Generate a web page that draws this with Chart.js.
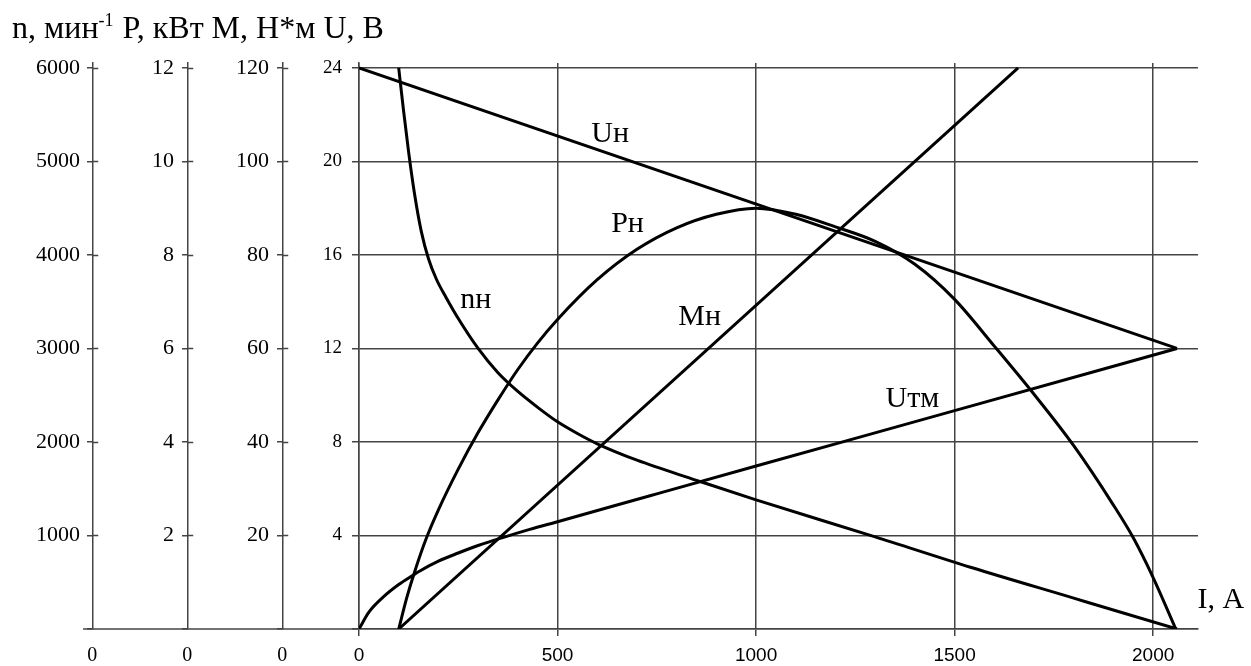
<!DOCTYPE html>
<html><head><meta charset="utf-8">
<script src="https://cdn.jsdelivr.net/npm/chart.js@4"></script>
<style>html,body{margin:0;padding:0;background:#fff}#wrap{width:1251px;height:666px;position:relative}</style>
</head><body><div id="wrap"><canvas id="c"></canvas></div>
<script>
// ---------- data ----------
const currentTicks = [0, 500, 1000, 1500, 2000];
const voltageTicks = [0, 4, 8, 12, 16, 20, 24];
const speedTicks = [0, 1000, 2000, 3000, 4000, 5000, 6000];
const powerTicks = [0, 2, 4, 6, 8, 10, 12];
const torqueTicks = [0, 20, 40, 60, 80, 100, 120];

// n_н, min^-1
const speedCurrent = [100, 112, 125, 140, 157, 175, 195, 220, 250, 300, 350, 400, 450, 500, 550, 600, 700, 850, 1000, 1300, 1540, 1800, 2060];
const speedValues  = [6000, 5550, 5100, 4650, 4250, 3960, 3740, 3540, 3320, 3000, 2740, 2540, 2370, 2215, 2090, 1980, 1805, 1590, 1380, 985, 660, 330, 0];
// P_н, kW
const powerCurrent = [100, 120, 140, 170, 200, 250, 300, 350, 400, 450, 500, 600, 700, 800, 900, 1000, 1100, 1200, 1300, 1400, 1500, 1600, 1700, 1800, 1900, 1950, 2000, 2057];
const powerValues  = [0, 0.66, 1.22, 1.95, 2.55, 3.42, 4.2, 4.9, 5.55, 6.12, 6.62, 7.47, 8.12, 8.58, 8.87, 9.0, 8.87, 8.6, 8.29, 7.8, 7.05, 6.05, 5.02, 3.92, 2.65, 1.95, 1.1, 0];
// M_н, N*m
const torqueCurrent = [100, 1660];
const torqueValues  = [0, 120];
// U_н, V
const voltageCurrent = [0, 2060];
const voltageValues  = [24, 12];
// U_тм, V
const tmCurrent = [0, 25, 60, 100, 136, 150, 200, 250, 300, 360, 430, 500, 733, 1000, 1500, 2060];
const tmValues  = [0, 0.72, 1.35, 1.9, 2.3, 2.45, 2.9, 3.25, 3.57, 3.9, 4.26, 4.59, 5.7, 6.97, 9.34, 12];

const seriesNames = ['nн', 'Pн', 'Mн', 'Uн', 'Uтм'];
const axisTitles = ['n, мин', '-1', ' P, кВт', ' M, Н*м', ' U, В'];
const xAxisTitle = 'I, A';

// ---------- styling / layout ----------
const SERIF = '"Liberation Serif", "Times New Roman", serif';
const SANS = '"Liberation Sans", Arial, sans-serif';
const GRID = '#444';
const headroom = 24.21 / 24;

const pts = (xs, ys) => xs.map((x, i) => ({x, y: ys[i]}));
const fixTicks = arr => scale => { scale.ticks = arr.map(v => ({value: v})); };
const hideZero = v => (v === 0 ? '' : String(v));

function ds(label, xs, ys, axis, smooth) {
  return {
    label, data: pts(xs, ys), yAxisID: axis, showLine: true,
    borderColor: '#000', borderWidth: 3, pointRadius: 0,
    cubicInterpolationMode: smooth ? 'monotone' : 'default', tension: 0, fill: false
  };
}

function sideAxis(max, ticks, width, weight, pad, fontSize, onArea) {
  return {
    type: 'linear', position: 'left', min: 0, max: max * headroom, weight,
    afterBuildTicks: fixTicks(ticks),
    afterFit: s => { s.width = width; },
    grid: { drawOnChartArea: onArea, color: GRID, lineWidth: 1.5, tickLength: onArea ? 7 : 6 },
    border: { display: true, color: GRID, width: 1.5 },
    ticks: { callback: hideZero, color: '#000', padding: pad, font: { family: SERIF, size: fontSize } }
  };
}

const labelPlaces = [
  { text: seriesNames[3], x: 585, u: 20.83 },
  { text: seriesNames[1], x: 635, u: 16.98 },
  { text: seriesNames[0], x: 255, u: 13.73 },
  { text: seriesNames[2], x: 804, u: 13.0 },
  { text: seriesNames[4], x: 1326, u: 9.5 }
];

const annotate = {
  id: 'annotate',
  afterDraw(chart) {
    const ctx = chart.ctx, xs = chart.scales.x, yu = chart.scales.yU;
    const area = chart.chartArea;
    ctx.save();
    const y0 = yu.getPixelForValue(0);
    ctx.strokeStyle = GRID; ctx.lineWidth = 1.5;
    ctx.beginPath(); ctx.moveTo(chart.scales.yN.right - 10, y0); ctx.lineTo(area.left, y0); ctx.stroke();
    ctx.fillStyle = '#000';
    ctx.font = '20px ' + SERIF; ctx.textAlign = 'center'; ctx.textBaseline = 'top';
    for (const id of ['yN', 'yP', 'yM']) {
      const s = chart.scales[id]; const ax = s.right - 0.75;
      ctx.beginPath();
      s.ticks.forEach(t => { if (t.value === 0) return; const py = Math.round(s.getPixelForValue(t.value)) + 0.5; ctx.moveTo(ax, py); ctx.lineTo(ax + 6, py); });
      ctx.stroke();
      ctx.fillText('0', ax, xs.top + 17);
    }
    // header axis titles, drawn as one run with a superscript
    ctx.textAlign = 'left'; ctx.textBaseline = 'alphabetic';
    const big = '32px ' + SERIF, small = '18px ' + SERIF;
    let x = 12; const base = 38;
    axisTitles.forEach((t, i) => {
      ctx.font = i === 1 ? small : big;
      ctx.fillText(t, x, i === 1 ? base - 12 : base);
      x += ctx.measureText(t).width + (i === 1 ? 1 : 0);
    });
    // curve labels
    ctx.font = '30px ' + SERIF;
    for (const l of labelPlaces) ctx.fillText(l.text, xs.getPixelForValue(l.x), yu.getPixelForValue(l.u));
    ctx.fillText(xAxisTitle, xs.getPixelForValue(2112), yu.getPixelForValue(0.9));
    ctx.restore();
  }
};

new Chart(document.getElementById('c'), {
  type: 'scatter',
  data: {
    datasets: [
      ds(seriesNames[0], speedCurrent, speedValues, 'yN', true),
      ds(seriesNames[1], powerCurrent, powerValues, 'yP', true),
      ds(seriesNames[2], torqueCurrent, torqueValues, 'yM', false),
      ds(seriesNames[3], voltageCurrent, voltageValues, 'yU', false),
      ds(seriesNames[4], tmCurrent, tmValues, 'yU', true)
    ]
  },
  options: {
    responsive: true, maintainAspectRatio: false, animation: false, devicePixelRatio: 1,
    layout: { autoPadding: false, padding: { left: 0, top: 63, right: 53, bottom: 0 } },
    plugins: { legend: { display: false }, tooltip: { enabled: false } },
    scales: {
      x: {
        type: 'linear', min: 0, max: 2113,
        afterBuildTicks: fixTicks(currentTicks),
        afterFit: s => { s.height = 37; },
        grid: { color: GRID, lineWidth: 1.5, tickLength: 7 },
        border: { display: true, color: GRID, width: 1.5 },
        ticks: { callback: v => String(v), color: '#000', padding: 8, maxRotation: 0, font: { family: SANS, size: 19 } }
      },
      yU: sideAxis(24, voltageTicks, 76, 0, 10, 19, true),
      yM: sideAxis(120, torqueTicks, 95, 1, 8, 22, false),
      yP: sideAxis(12, powerTicks, 95, 2, 8, 22, false),
      yN: sideAxis(6000, speedTicks, 93, 3, 7, 22, false)
    }
  },
  plugins: [annotate]
});
</script>
</body></html>
